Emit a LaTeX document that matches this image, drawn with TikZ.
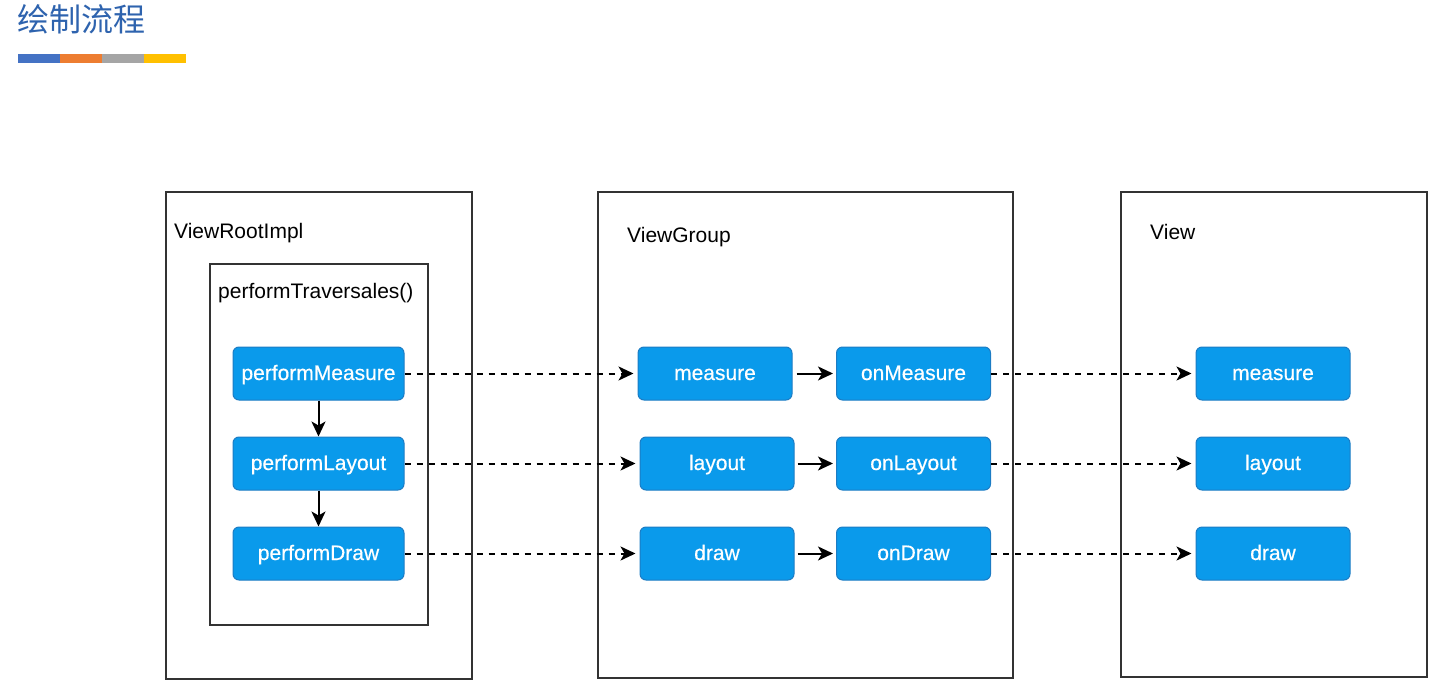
\documentclass[tikz,border=0pt]{standalone}
\usepackage{fontspec}
\setmainfont{Liberation Sans}
\newfontfamily\cjk{Noto Sans CJK SC}
\newfontfamily\callfont[FakeBold=0.5]{Liberation Sans}
\usetikzlibrary{arrows.meta, positioning}

\definecolor{titleblue}{HTML}{2E63AE}
\definecolor{barblue}{HTML}{4472C4}
\definecolor{barorange}{HTML}{ED7D31}
\definecolor{bargray}{HTML}{A5A5A5}
\definecolor{baryellow}{HTML}{FFC000}
\definecolor{callfill}{HTML}{0A9AEB}
\definecolor{calledge}{HTML}{1C7CC4}
\definecolor{frameedge}{HTML}{333333}

\begin{document}
\begin{tikzpicture}[
  x=1pt, y=-1pt,
  % Outer class frames
  frame/.style={rectangle, draw=frameedge, line width=2pt, anchor=north west, inner sep=0pt},
  % Frame captions
  caption/.style={anchor=west, inner sep=0pt, font=\fontsize{21}{25}\selectfont},
  % Method calls
  call/.style={rectangle, draw=calledge, line width=1pt, rounded corners=6pt, fill=callfill,
    minimum width=154pt, minimum height=53pt, inner sep=0pt, text=white,
    text height=13pt, text depth=0pt,
    font=\callfont\fontsize{21}{25}\selectfont},
  % Arrows
  flow/.style={line width=2pt, -{Stealth[length=15pt, width=14pt, inset=4pt]}},
  dashflow/.style={flow, dash pattern=on 6pt off 6pt}
]
\useasboundingbox (0,0) rectangle (1447,687);

% === Title ===
\node[anchor=west, inner sep=0pt, text=titleblue, font=\cjk\fontsize{32}{36}\selectfont] (title) at (17,19) {绘制流程};
\fill[barblue]   (18,54) rectangle (60,63);
\fill[barorange] (60,54) rectangle (102,63);
\fill[bargray]   (102,54) rectangle (144,63);
\fill[baryellow] (144,54) rectangle (186,63);

% === Frames ===
\node[frame, minimum width=306pt, minimum height=487pt] (rootFrame) at (165,191) {};
\node[frame, minimum width=218pt, minimum height=361pt] (travFrame) at (209,263) {};
\node[frame, minimum width=415pt, minimum height=486pt] (groupFrame) at (597,191) {};
\node[frame, minimum width=306pt, minimum height=485pt] (viewFrame) at (1120,191) {};

\node[caption] (rootCap) at (174,233) {ViewRootImpl};
\node[caption] (travCap) at (218,293) {performTraversales()};
\node[caption] (groupCap) at (627,237) {ViewGroup};
\node[caption] (viewCap) at (1150,232) {View};

% === ViewRootImpl calls ===
\node[call, minimum width=171pt] (perfMeasure) at (318.5,373.5) {performMeasure};
\node[call, minimum width=171pt] (perfLayout) at (318.5,463.5) {performLayout};
\node[call, minimum width=171pt] (perfDraw) at (318.5,553.5) {performDraw};

\draw[flow] (perfMeasure.south) -- (perfLayout.north);
\draw[flow] (perfLayout.south) -- (perfDraw.north);

% === ViewGroup calls ===
\node[call] (vgMeasure) at (715,373.5) {measure};
\node[call] (vgLayout) at (717,463.5) {layout};
\node[call] (vgDraw) at (717,553.5) {draw};

\node[call] (onMeasure) at (913.5,373.5) {onMeasure};
\node[call] (onLayout) at (913.5,463.5) {onLayout};
\node[call] (onDraw) at (913.5,553.5) {onDraw};

\draw[flow, shorten <=4pt, shorten >=3pt] (vgMeasure) -- (onMeasure);
\draw[flow, shorten <=3pt, shorten >=3pt] (vgLayout) -- (onLayout);
\draw[flow, shorten <=3pt, shorten >=3pt] (vgDraw) -- (onDraw);

% === View calls ===
\node[call] (vMeasure) at (1273,373.5) {measure};
\node[call] (vLayout) at (1273,463.5) {layout};
\node[call] (vDraw) at (1273,553.5) {draw};

% Dashed calls across classes
\draw[dashflow, shorten >=4pt] (perfMeasure) -- (vgMeasure);
\draw[dashflow, shorten >=4pt] (perfLayout) -- (vgLayout);
\draw[dashflow, shorten >=4pt] (perfDraw) -- (vgDraw);

\draw[dashflow, shorten >=4pt] (onMeasure) -- (vMeasure);
\draw[dashflow, shorten >=4pt] (onLayout) -- (vLayout);
\draw[dashflow, shorten >=4pt] (onDraw) -- (vDraw);

\end{tikzpicture}
\end{document}
